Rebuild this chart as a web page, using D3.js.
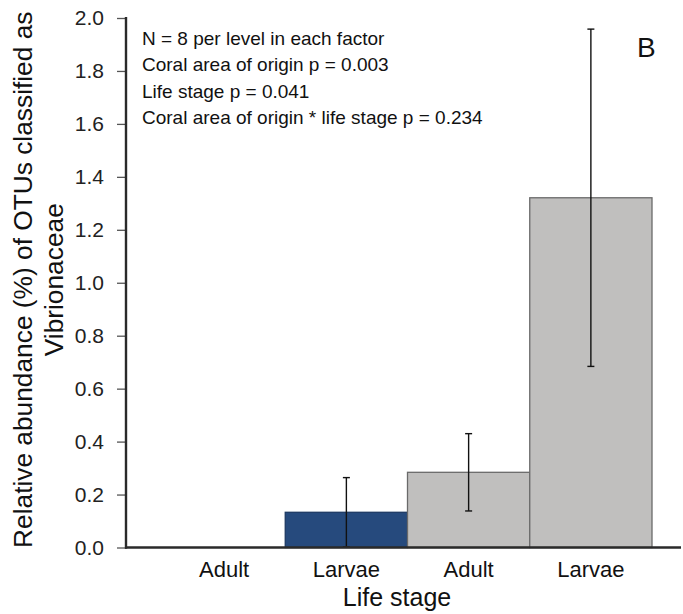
<!DOCTYPE html>
<html>
<head>
<meta charset="utf-8">
<script src="https://cdn.jsdelivr.net/npm/d3@7"></script>
<style>
  html, body { margin: 0; padding: 0; background: #fff; }
  svg { display: block; font-family: "Liberation Sans", Arial, Helvetica, sans-serif; }
</style>
</head>
<body>
<svg id="chart" width="683" height="614"></svg>
<script>
// Relative abundance of Vibrionaceae OTUs by coral area of origin and life stage
const lifeStage = ["Adult", "Larvae", "Adult", "Larvae"];
const origin = ["Origin 1", "Origin 1", "Origin 2", "Origin 2"];
const meanAbundance = [0, 0.133, 0.284, 1.321];
const stdError = [0, 0.131, 0.146, 0.637];
const yTicks = [0, 0.2, 0.4, 0.6, 0.8, 1.0, 1.2, 1.4, 1.6, 1.8, 2.0];
const statsLines = [
  "N = 8 per level in each factor",
  "Coral area of origin p = 0.003",
  "Life stage p = 0.041",
  "Coral area of origin * life stage p = 0.234"
];

const bars = lifeStage.map((stage, i) => ({
  key: i, stage, origin: origin[i], mean: meanAbundance[i], se: stdError[i]
}));

const svg = d3.select("#chart");
const axisLeft = 126, axisRight = 681;
const plotTop = 18, plotBottom = 547.5;

const x = d3.scaleBand()
  .domain(bars.map(d => d.key))
  .range([163, 652])
  .padding(0);

const y = d3.scaleLinear()
  .domain([0, 2])
  .range([plotBottom, plotTop]);

const fill = d3.scaleOrdinal()
  .domain(["Origin 1", "Origin 2"])
  .range(["#264a7d", "#c0bfbe"]);
const stroke = d3.scaleOrdinal()
  .domain(["Origin 1", "Origin 2"])
  .range(["#1d3a63", "#6a6a6a"]);

// bars
svg.append("g")
  .selectAll("rect")
  .data(bars.filter(d => d.mean > 0))
  .join("rect")
  .attr("x", d => x(d.key))
  .attr("y", d => y(d.mean))
  .attr("width", x.bandwidth())
  .attr("height", d => y(0) - y(d.mean))
  .attr("fill", d => fill(d.origin))
  .attr("stroke", d => stroke(d.origin))
  .attr("stroke-width", 1.3);

// error bars (mean ± SE)
const capHalf = 3.5;
const eb = svg.append("g").attr("stroke", "#111").attr("stroke-width", 1.4);
bars.filter(d => d.se > 0).forEach(d => {
  const cx = x(d.key) + x.bandwidth() / 2;
  const lo = Math.max(0, d.mean - d.se), hi = d.mean + d.se;
  eb.append("line").attr("x1", cx).attr("x2", cx).attr("y1", y(lo)).attr("y2", y(hi));
  eb.append("line").attr("x1", cx - capHalf).attr("x2", cx + capHalf).attr("y1", y(hi)).attr("y2", y(hi));
  eb.append("line").attr("x1", cx - capHalf).attr("x2", cx + capHalf).attr("y1", y(lo)).attr("y2", y(lo));
});

// y axis
const yAxis = svg.append("g")
  .attr("transform", `translate(${axisLeft},0)`)
  .call(d3.axisLeft(y).tickValues(yTicks).tickFormat(d3.format(".1f")).tickSize(9).tickPadding(13));
yAxis.select(".domain").remove();
yAxis.selectAll(".tick line").attr("stroke", "#555").attr("stroke-width", 1.3);
yAxis.selectAll(".tick text").attr("fill", "#222").style("font-size", "21px")
  .style("font-family", "'Liberation Sans', Arial, sans-serif");
svg.append("line")
  .attr("x1", axisLeft).attr("x2", axisLeft)
  .attr("y1", y(2) - 1).attr("y2", y(0) + 1.2)
  .attr("stroke", "#2a2a2a").attr("stroke-width", 2.4);

// x axis
svg.append("line")
  .attr("x1", axisLeft - 1).attr("x2", axisRight)
  .attr("y1", y(0)).attr("y2", y(0))
  .attr("stroke", "#2a2a2a").attr("stroke-width", 2.4);
svg.append("g")
  .selectAll("text")
  .data(bars)
  .join("text")
  .attr("x", d => x(d.key) + x.bandwidth() / 2)
  .attr("y", 577)
  .attr("text-anchor", "middle")
  .attr("fill", "#111")
  .style("font-size", "22px")
  .text(d => d.stage);

// axis titles
svg.append("text")
  .attr("x", 397).attr("y", 606)
  .attr("text-anchor", "middle")
  .attr("fill", "#111")
  .style("font-size", "25px")
  .text("Life stage");

const yTitle = svg.append("text")
  .attr("transform", `translate(32,${(plotTop + plotBottom) / 2 - 3}) rotate(-90)`)
  .attr("text-anchor", "middle")
  .attr("fill", "#111")
  .style("font-size", "26.3px");
yTitle.append("tspan").attr("x", 0).attr("y", 0).text("Relative abundance (%) of OTUs classified as");
yTitle.append("tspan").attr("x", 0).attr("y", 31).text("Vibrionaceae");

// statistics note
svg.append("g")
  .selectAll("text")
  .data(statsLines)
  .join("text")
  .attr("x", 142)
  .attr("y", (d, i) => 45 + i * 26.4)
  .attr("fill", "#111")
  .style("font-size", "19px")
  .text(d => d);

// panel letter
svg.append("text")
  .attr("x", 637).attr("y", 57)
  .attr("fill", "#111")
  .style("font-size", "28px")
  .text("B");
</script>
</body>
</html>
